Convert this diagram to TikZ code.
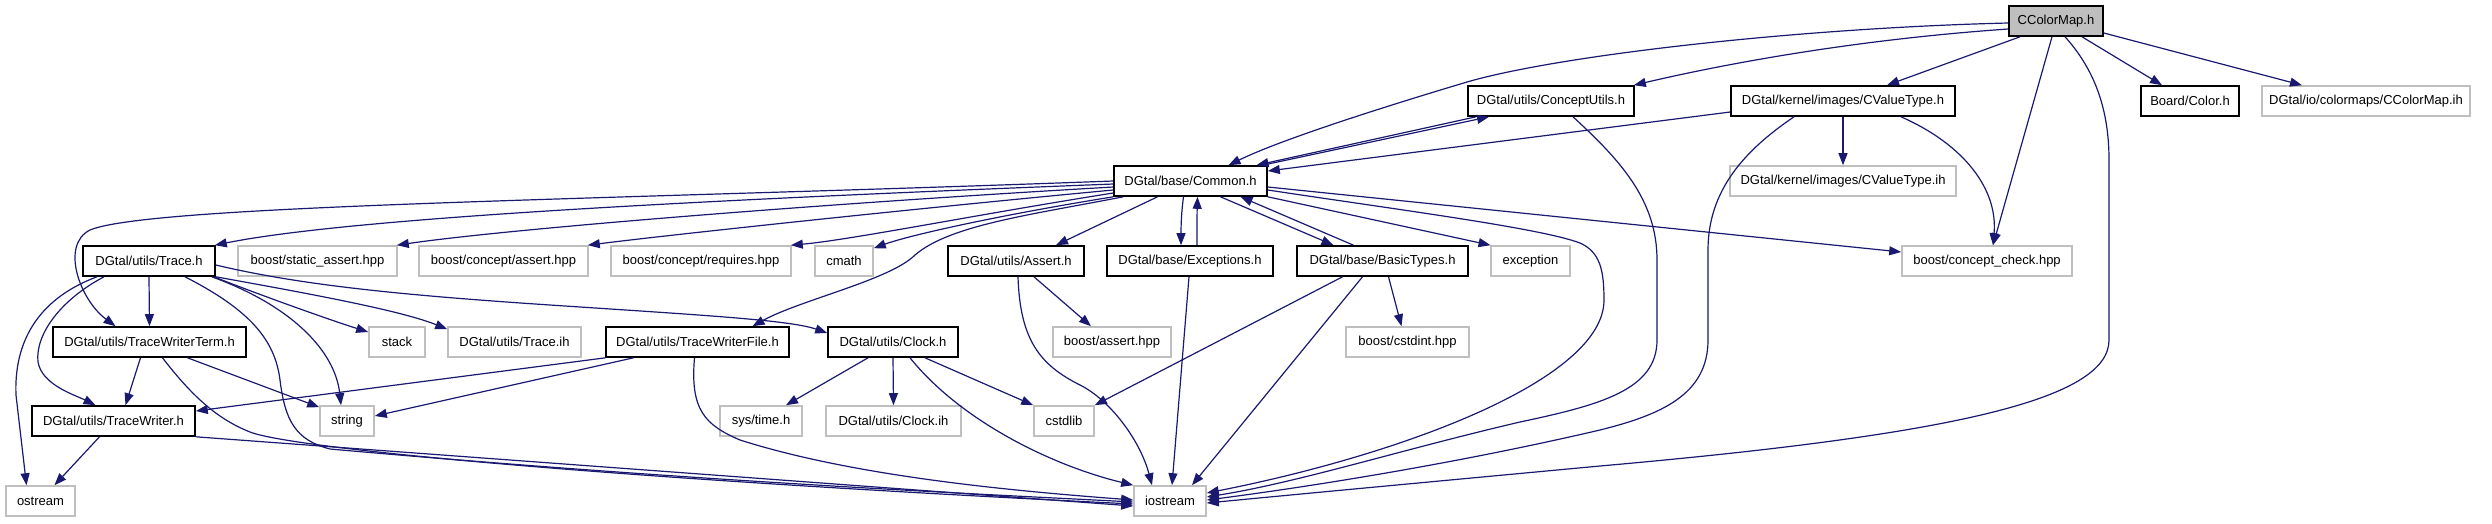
\documentclass[tikz,border=0pt]{standalone}
\usepackage{fontspec}
\newfontfamily\dxfont{Liberation Sans}
\usetikzlibrary{arrows.meta}
\definecolor{edgec}{RGB}{25,25,112}
\definecolor{graybd}{RGB}{191,191,191}
\begin{document}
\begin{tikzpicture}[x=1pt,y=-1pt,
  nb/.style={draw=black, line width=1.6pt, fill=white, minimum height=30pt, inner sep=0pt,
    font=\dxfont\fontsize{13}{15}\selectfont, text=black},
  ng/.style={nb, draw=graybd},
  e/.style={draw=edgec, line width=1.2pt, -{Triangle[length=12pt,width=9pt]}}]
\useasboundingbox (0,0) rectangle (2492,523);
% row 0
\node[nb, fill=graybd, minimum width=94pt] (cmap) at (2056,21) {CColorMap.h};
% row 1
\node[nb, minimum width=166pt] (cu) at (1551,101) {DGtal/utils/ConceptUtils.h};
\node[nb, minimum width=224pt] (cvt) at (1843,101) {DGtal/kernel/images/CValueType.h};
\node[nb, minimum width=98pt] (bcol) at (2190,101) {Board/Color.h};
\node[ng, minimum width=208pt] (cmih) at (2366,101) {DGtal/io/colormaps/CColorMap.ih};
% row 2
\node[nb, minimum width=153pt] (common) at (1190.5,181) {DGtal/base/Common.h};
\node[ng, minimum width=226pt] (cvtih) at (1843,181) {DGtal/kernel/images/CValueType.ih};
% row 3
\node[nb, minimum width=132pt] (trace) at (149,261) {DGtal/utils/Trace.h};
\node[ng, minimum width=159pt] (sa) at (317.5,261) {boost/static\_assert.hpp};
\node[ng, minimum width=169pt] (ca) at (503.5,261) {boost/concept/assert.hpp};
\node[ng, minimum width=180pt] (cr) at (701,261) {boost/concept/requires.hpp};
\node[ng, minimum width=58pt] (cmath) at (844,261) {cmath};
\node[nb, minimum width=136pt] (assert) at (1016,261) {DGtal/utils/Assert.h};
\node[nb, minimum width=166pt] (exc) at (1190,261) {DGtal/base/Exceptions.h};
\node[nb, minimum width=171pt] (bt) at (1382.5,261) {DGtal/base/BasicTypes.h};
\node[ng, minimum width=79pt] (exception) at (1530.5,261) {exception};
\node[ng, minimum width=170pt] (cc) at (1987,261) {boost/concept\_check.hpp};
% row 4
\node[nb, minimum width=193pt] (twt) at (149.5,342) {DGtal/utils/TraceWriterTerm.h};
\node[ng, minimum width=56pt] (stack) at (397,342) {stack};
\node[ng, minimum width=133pt] (tih) at (514.5,342) {DGtal/utils/Trace.ih};
\node[nb, minimum width=183pt] (twf) at (697.5,342) {DGtal/utils/TraceWriterFile.h};
\node[nb, minimum width=130pt] (clock) at (893,342) {DGtal/utils/Clock.h};
\node[ng, minimum width=118pt] (bassert) at (1112,342) {boost/assert.hpp};
\node[ng, minimum width=123pt] (cstdint) at (1407.5,342) {boost/cstdint.hpp};
% row 5
\node[nb, minimum width=163pt] (tw) at (113.5,421) {DGtal/utils/TraceWriter.h};
\node[ng, minimum width=54pt] (string) at (347,421) {string};
\node[ng, minimum width=82pt] (systime) at (761,421) {sys/time.h};
\node[ng, minimum width=135pt] (clockih) at (893.5,421) {DGtal/utils/Clock.ih};
\node[ng, minimum width=60pt] (cstdlib) at (1064,421) {cstdlib};
% row 6
\node[ng, minimum width=69pt] (ostream) at (40.5,501) {ostream};
\node[ng, minimum width=72pt] (iostream) at (1170,501) {iostream};

% CColorMap.h
\draw[e] ([yshift=-2pt]cmap.west) .. controls (1800,28) and (1560,55) .. (1467,82) .. controls (1380,108) and (1280,140) .. ([xshift=38pt]common.north);
\draw[e] ([yshift=-8pt]cmap.west) .. controls (1850,40) and (1720,65) .. ([xshift=-1pt]cu.north east);
\draw[e] ([xshift=-36pt]cmap.south) -- ([xshift=44pt]cvt.north);
\draw[e] ([xshift=-4pt]cmap.south) -- ([xshift=6pt]cc.north);
\draw[e] ([xshift=9pt]cmap.south) .. controls (2095,70) and (2109,110) .. (2109,160) -- (2109,340) .. controls (2109,400) and (1950,435) .. (1600,466) .. controls (1450,480) and (1300,494) .. ([yshift=-2pt]iostream.east);
\draw[e] ([xshift=26pt]cmap.south) -- ([xshift=-28pt]bcol.north);
\draw[e] ([yshift=-12pt]cmap.east) -- ([xshift=-64pt]cmih.north);
% ConceptUtils.h
\draw[e] ([xshift=-75pt]cu.south) -- ([xshift=66pt]common.north);
\draw[e] ([xshift=72pt]common.north) -- ([xshift=-62pt]cu.south);
\draw[e] ([xshift=22pt]cu.south) .. controls (1620,160) and (1657,200) .. (1657,260) -- (1657,340) .. controls (1657,390) and (1600,405) .. (1520,422) .. controls (1400,450) and (1300,482) .. ([yshift=4pt]iostream.east);
% CValueType.h
\draw[e] ([yshift=-11pt]cvt.west) -- ([yshift=10pt]common.east);
\draw[e] (cvt.south) -- (cvtih.north);
\draw[e] ([xshift=58pt]cvt.south) .. controls (1965,145) and (1998,190) .. ([xshift=6pt]cc.north);
\draw[e] ([xshift=-49pt]cvt.south) .. controls (1745,150) and (1708,190) .. (1708,250) -- (1708,340) .. controls (1708,395) and (1660,415) .. (1600,430) .. controls (1450,465) and (1300,488) .. ([yshift=1pt]iostream.east);
% Common.h
\draw[e] (common.west) .. controls (600,200) and (150,205) .. (90,230) .. controls (60,245) and (80,300) .. ([xshift=-34pt]twt.north);
\draw[e] ([yshift=-3pt]common.west) .. controls (700,200) and (350,218) .. ([xshift=-1pt]trace.north east);
\draw[e] ([yshift=-6pt]common.west) .. controls (800,205) and (500,230) .. ([xshift=-1pt]sa.north east);
\draw[e] ([yshift=-9pt]common.west) .. controls (900,210) and (660,236) .. ([xshift=-1pt]ca.north east);
\draw[e] ([yshift=-12pt]common.west) .. controls (980,214) and (850,240) .. ([xshift=-1pt]cr.north east);
\draw[e] (common.south west) .. controls (1000,215) and (910,235) .. ([yshift=-3pt]cmath.north east);
\draw[e] ([xshift=10pt]common.south west) .. controls (1030,215) and (950,225) .. (915,255) .. controls (890,280) and (800,300) .. ([xshift=55pt]twf.north);
\draw[e] ([xshift=-33pt]common.south) -- ([xshift=40pt]assert.north);
\draw[e] ([xshift=-7pt]common.south) .. controls (1181,215) and (1181,230) .. ([xshift=-9pt]exc.north);
\draw[e] ([xshift=7pt]exc.north) .. controls (1197,230) and (1197,215) .. ([xshift=7pt]common.south);
\draw[e] ([xshift=30pt]common.south) -- ([xshift=-49pt]bt.north);
\draw[e] ([xshift=-29pt]bt.north) -- ([xshift=50pt]common.south);
\draw[e] (common.south east) -- ([xshift=-40pt]exception.north);
\draw[e] ([yshift=-6pt]common.east) -- ([yshift=9pt]cc.west);
\draw[e] ([yshift=-9pt]common.east) .. controls (1400,210) and (1540,228) .. (1580,243) .. controls (1600,252) and (1604,270) .. (1604,300) .. controls (1604,380) and (1400,455) .. ([yshift=8pt]iostream.east);
% Trace.h
\draw[e] (trace.south) -- (twt.north);
\draw[e] ([xshift=-45pt]trace.south) .. controls (60,300) and (35,335) .. (38,362) .. controls (42,385) and (75,395) .. ([xshift=-18pt]tw.north);
\draw[e] ([xshift=-52pt]trace.south) .. controls (35,300) and (14,345) .. (16,395) -- ([xshift=-14pt]ostream.north);
\draw[e] ([xshift=-2pt]trace.south east) .. controls (260,295) and (330,320) .. ([yshift=10pt]stack.west);
\draw[e] (trace.south east) .. controls (300,292) and (400,310) .. ([yshift=-3pt]tih.north west);
\draw[e] ([xshift=-4pt]trace.south east) .. controls (290,305) and (335,350) .. ([xshift=-6pt]string.north);
\draw[e] ([xshift=36pt]trace.south) .. controls (250,310) and (275,340) .. (280,380) .. controls (285,420) and (295,440) .. (330,449) .. controls (700,482) and (1000,495) .. ([yshift=-1pt]iostream.west);
\draw[e] ([yshift=-4pt]trace.east) .. controls (300,285) and (400,295) .. (550,305) .. controls (700,315) and (790,320) .. ([yshift=9pt]clock.west);
% TraceWriterTerm.h
\draw[e] ([xshift=-9pt]twt.south) -- ([xshift=12pt]tw.north);
\draw[e] ([xshift=38pt]twt.south) -- ([yshift=-2pt]string.north west);
\draw[e] ([xshift=13pt]twt.south) .. controls (195,400) and (220,420) .. (250,432) .. controls (290,448) and (600,478) .. ([yshift=-3pt]iostream.west);
% TraceWriterFile.h
\draw[e] ([xshift=-92pt]twf.south) -- ([yshift=10pt]tw.east);
\draw[e] ([xshift=-64pt]twf.south) -- ([yshift=5pt]string.east);
\draw[e] ([xshift=-3pt]twf.south) .. controls (690,410) and (705,425) .. (740,440) .. controls (850,475) and (1000,490) .. ([yshift=1pt]iostream.west);
% TraceWriter.h
\draw[e] ([xshift=-14pt]tw.south) -- ([xshift=14pt]ostream.north);
\draw[e] (tw.south east) -- ([yshift=-5pt]iostream.west);
% Clock.h
\draw[e] ([xshift=-25pt]clock.south) -- ([xshift=25pt]systime.north);
\draw[e] (clock.south) -- (clockih.north);
\draw[e] ([xshift=32pt]clock.south) -- (cstdlib.north west);
\draw[e] ([xshift=17pt]clock.south) .. controls (960,420) and (1050,465) .. (iostream.north west);
% Assert.h
\draw[e] ([xshift=18pt]assert.south) -- ([xshift=-21pt]bassert.north);
\draw[e] ([xshift=2pt]assert.south) .. controls (1020,340) and (1040,365) .. (1080,385) .. controls (1110,400) and (1140,440) .. ([xshift=-18pt]iostream.north);
% Exceptions.h
\draw[e] ([xshift=-1pt]exc.south) -- ([xshift=2pt]iostream.north);
% BasicTypes.h
\draw[e] ([xshift=6pt]bt.south) -- ([xshift=-6pt]cstdint.north);
\draw[e] ([xshift=-40pt]bt.south) -- (cstdlib.north east);
\draw[e] ([xshift=-20pt]bt.south) -- ([xshift=22pt]iostream.north);
\end{tikzpicture}
\end{document}
